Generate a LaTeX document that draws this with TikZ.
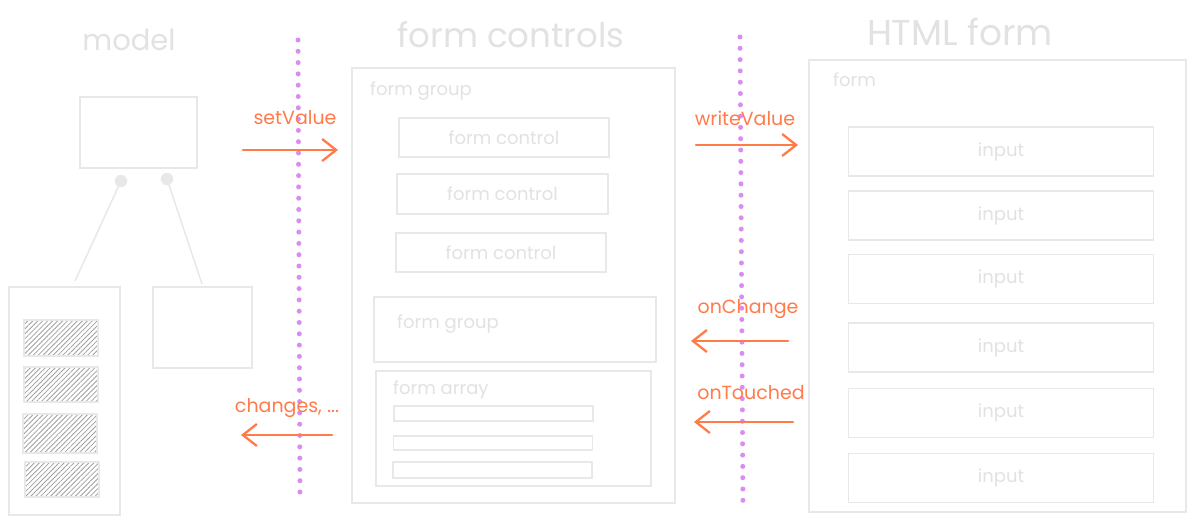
\documentclass[tikz,border=0pt]{standalone}
\usepackage{fontspec}
\setmainfont{Poppins}
\usetikzlibrary{arrows.meta,patterns.meta}
\definecolor{lg}{HTML}{E8E8E8}
\definecolor{lt}{HTML}{E2E2E2}
\definecolor{org}{HTML}{FF7B4A}
\definecolor{vio}{HTML}{DA8CF2}
\definecolor{hatchc}{HTML}{A0A0A0}
\begin{document}
\begin{tikzpicture}[x=1pt,y=-1pt,
  box/.style={draw=lg, line width=1.3pt, inner sep=0pt},
  hbox/.style={box, pattern={Lines[angle=45,distance=3.5pt,line width=0.8pt]}, pattern color=hatchc},
  title/.style={text=lt, font=\fontsize{#1}{#1}\selectfont},
  title/.default=33,
  lbl/.style={text=lt, font=\fontsize{18}{18}\selectfont, inner sep=0pt},
  olbl/.style={text=org, font=\fontsize{19}{19}\selectfont, inner sep=0pt},
  oarrow/.style={draw=org, line width=2.3pt, line cap=round, -{Straight Barb[length=14pt,width=22pt,line width=2.3pt]}},
  vline/.style={draw=vio, line width=5pt, line cap=round, dash pattern=on 0pt off 11.3pt},
  conn/.style={draw=lg, line width=1.5pt},
  knob/.style={circle, fill=lg, draw=lg, minimum size=12pt, inner sep=0pt}
]
\useasboundingbox (0,0) rectangle (1196,527);
\fill[white] (0,0) rectangle (1196,527);

% titles
\node[title=29] (tmodel) at (129,40) {model};
\node[title=34] (tfc) at (511,35) {form controls};
\node[title=36] (thtml) at (960,32) {HTML form};

% model column
\node[box, minimum width=117pt, minimum height=71pt] (mroot) at (138.5,132.5) {};
\node[box, minimum width=111pt, minimum height=228pt] (marr) at (64.5,401) {};
\node[box, minimum width=99pt, minimum height=81pt] (mobj) at (202.5,327.5) {};
\node[hbox, minimum width=74pt, minimum height=36pt] (h1) at (61,338) {};
\node[hbox, minimum width=74pt, minimum height=35pt] (h2) at (61,384.5) {};
\node[hbox, minimum width=74pt, minimum height=39pt] (h3) at (60,433.5) {};
\node[hbox, minimum width=74pt, minimum height=35pt] (h4) at (62,479.5) {};
\node[knob] (k1) at (121,181) {};
\node[knob] (k2) at (167,179) {};
\coordinate (e1) at (75,281);
\coordinate (e2) at (202,284);
\draw[conn] (k1) -- (e1);
\draw[conn] (k2) -- (e2);

% form controls column
\node[box, minimum width=323pt, minimum height=435pt] (fc) at (513.5,285.5) {};
\node[lbl, anchor=west] (fglbl) at (370,91) {form group};
\node[box, minimum width=210pt, minimum height=39pt] (c1) at (504,137.5) {};
\node[lbl] at (c1) {form control};
\node[box, minimum width=211pt, minimum height=40pt] (c2) at (502.5,194) {};
\node[lbl] at (c2) {form control};
\node[box, minimum width=210pt, minimum height=39pt] (c3) at (501,252.5) {};
\node[lbl] at (c3) {form control};
\node[box, minimum width=282pt, minimum height=65pt] (fg2) at (515,329.5) {};
\node[lbl, anchor=west] (fg2lbl) at (397,324) {form group};
\node[box, minimum width=275pt, minimum height=115pt] (fa) at (513.5,428.5) {};
\node[lbl, anchor=west] (falbl) at (393,390) {form array};
\node[box, minimum width=199pt, minimum height=15pt] (b1) at (493.5,413.5) {};
\node[box, minimum width=199pt, minimum height=14pt] (b2) at (493,443) {};
\node[box, minimum width=199pt, minimum height=16pt] (b3) at (492.5,470) {};

% HTML form column
\node[box, minimum width=377pt, minimum height=452pt] (html) at (997.5,286) {};
\node[lbl, anchor=west] (formlbl) at (833,80) {form};
\foreach \i/\y in {1/151.5,2/215.5,3/279,4/347.5,5/413,6/478}{
  \node[box, minimum width=305pt, minimum height=49pt] (in\i) at (1001,\y) {};
  \node[lbl] at (in\i) {input};
}

% dotted separators
\coordinate (v1t) at (298,40);
\coordinate (v1b) at (300,502);
\coordinate (v2t) at (740,37);
\coordinate (v2b) at (743,510);
\draw[vline] (v1t) -- (v1b);
\draw[vline] (v2t) -- (v2b);

% arrows
\coordinate (sv1) at (243,150); \coordinate (sv2) at (338,150);
\draw[oarrow] (sv1) -- (sv2);
\node[olbl] (svl) at (295,118) {setValue};
\coordinate (ch1) at (332,435); \coordinate (ch2) at (241,435);
\draw[oarrow] (ch1) -- (ch2);
\node[olbl] (chl) at (287,408) {changes, ...};
\coordinate (wv1) at (696,145); \coordinate (wv2) at (798,145);
\draw[oarrow] (wv1) -- (wv2);
\node[olbl] (wvl) at (745,118) {writeValue};
\coordinate (oc1) at (788,341); \coordinate (oc2) at (691,341);
\draw[oarrow] (oc1) -- (oc2);
\node[olbl] (ocl) at (748,309) {onChange};
\coordinate (ot1) at (793,422); \coordinate (ot2) at (694,422);
\draw[oarrow] (ot1) -- (ot2);
\node[olbl] (otl) at (751,393) {onTouched};
\end{tikzpicture}
\end{document}
